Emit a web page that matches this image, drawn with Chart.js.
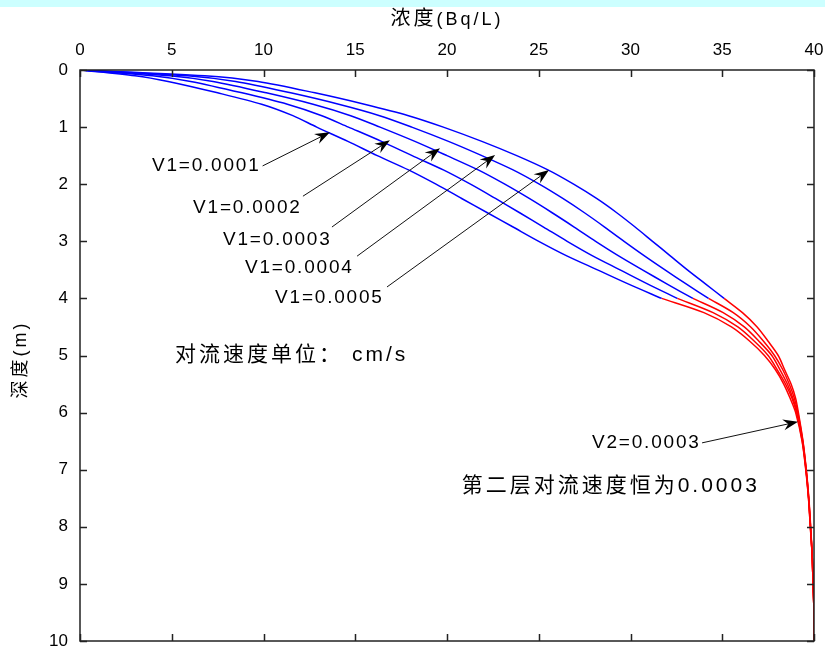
<!DOCTYPE html>
<html>
<head>
<meta charset="utf-8">
<script src="https://cdn.jsdelivr.net/npm/chart.js@4.4.1/dist/chart.umd.min.js"></script>
<style>
  html, body { margin: 0; padding: 0; background: #fff; }
  #wrap { width: 825px; height: 652px; }
</style>
</head>
<body>
<div id="wrap"><canvas id="depthChart" width="825" height="652"></canvas></div>
<script>
// depth (m) for the first layer (blue) and second layer (red)
const depthLayer1 = [0, 0.1, 0.2, 0.4, 0.6, 0.8, 1.0, 1.25, 1.5, 1.75, 2.0, 2.25, 2.5, 2.75, 3.0, 3.25, 3.5, 3.75, 4.0];
const depthLayer2 = [4.0, 4.25, 4.5, 4.75, 5.0, 5.25, 5.5, 5.75, 6.0, 6.5, 7.0, 7.5, 8.0, 8.5, 9.0, 9.5, 10];

// concentration (Bq/L), first layer, one per V1
const concV1_0001 = [0, 3.0, 4.8, 7.5, 9.9, 11.6, 12.9, 14.6, 16.2, 17.9, 19.4, 20.8, 22.2, 23.6, 25.0, 26.5, 28.2, 29.9, 31.7];
const concV1_0002 = [0, 3.95, 6.03, 8.83, 11.3, 13.18, 14.63, 16.43, 18.1, 19.8, 21.28, 22.64, 23.96, 25.26, 26.55, 27.91, 29.43, 30.95, 32.55];
const concV1_0003 = [0, 4.9, 7.25, 10.15, 12.7, 14.75, 16.35, 18.25, 20.0, 21.7, 23.15, 24.48, 25.73, 26.93, 28.1, 29.33, 30.65, 32.0, 33.4];
const concV1_0004 = [0, 5.85, 8.48, 11.48, 14.1, 16.33, 18.08, 20.08, 21.9, 23.6, 25.03, 26.31, 27.49, 28.59, 29.65, 30.74, 31.88, 33.05, 34.25];
const concV1_0005 = [0, 6.8, 9.7, 12.8, 15.5, 17.9, 19.8, 21.9, 23.8, 25.5, 26.9, 28.15, 29.25, 30.25, 31.2, 32.15, 33.1, 34.1, 35.1];

// concentration, second layer (V2 = 0.0003), continuing each curve
const concL2_1 = [31.7, 34.0, 35.5, 36.5, 37.3, 37.9, 38.35, 38.7, 39.0, 39.35, 39.55, 39.7, 39.8, 39.9, 39.95, 40, 40];
const concL2_2 = [32.55, 34.5, 35.85, 36.75, 37.5, 38.0, 38.45, 38.8, 39.05, 39.36, 39.56, 39.7, 39.8, 39.9, 39.95, 40, 40];
const concL2_3 = [33.4, 35.05, 36.2, 37.0, 37.7, 38.15, 38.55, 38.85, 39.08, 39.38, 39.57, 39.71, 39.81, 39.9, 39.95, 40, 40];
const concL2_4 = [34.25, 35.6, 36.55, 37.25, 37.85, 38.3, 38.65, 38.93, 39.12, 39.39, 39.57, 39.71, 39.81, 39.9, 39.95, 40, 40];
const concL2_5 = [35.1, 36.1, 36.9, 37.5, 38.05, 38.4, 38.75, 39.0, 39.15, 39.4, 39.58, 39.72, 39.82, 39.9, 39.95, 40, 40];

const v1Labels = ['V1=0.0001', 'V1=0.0002', 'V1=0.0003', 'V1=0.0004', 'V1=0.0005'];
const xTicks = [0, 5, 10, 15, 20, 25, 30, 35, 40];
const yTicks = [0, 1, 2, 3, 4, 5, 6, 7, 8, 9, 10];
const xTitle = ['浓度', '(Bq/L)'];
const yTitle = '深度(m)';

const layer1 = [concV1_0001, concV1_0002, concV1_0003, concV1_0004, concV1_0005];
const layer2 = [concL2_1, concL2_2, concL2_3, concL2_4, concL2_5];

// text + arrows, placed in data units
const notes = [
    { text: v1Labels[0], x: 3.92, y: 1.68, from: [9.95, 1.68], to: [13.62, 1.09] },
    { text: v1Labels[1], x: 6.16, y: 2.42, from: [12.15, 2.21], to: [16.89, 1.23] },
    { text: v1Labels[2], x: 7.79, y: 2.98, from: [13.73, 2.75], to: [19.62, 1.37] },
    { text: v1Labels[3], x: 8.99, y: 3.47, from: [15.1, 3.26], to: [22.62, 1.49] },
    { text: v1Labels[4], x: 10.63, y: 3.99, from: [16.73, 3.80], to: [25.56, 1.75] },
    { text: 'V2=0.0003', x: 27.9, y: 6.53, from: [33.9, 6.53], to: [39.13, 6.16] }
];
const cjkNotes = [
    { text: '对流速度单位： cm/s', x: 5.18, y: 4.99 },
    { text: '第二层对流速度恒为0.0003', x: 20.8, y: 7.29 }
];

const FONT = "'Liberation Sans', Arial, 'Noto Sans CJK SC', sans-serif";

function toPoints(xs, ys) {
    return xs.map((v, i) => ({ x: v, y: ys[i] }));
}

const datasets = [];
layer1.forEach((arr, i) => {
    datasets.push({ label: v1Labels[i], data: toPoints(arr, depthLayer1), borderColor: '#0000ff' });
});
layer2.forEach((arr, i) => {
    datasets.push({ label: v1Labels[i] + ' / V2', data: toPoints(arr, depthLayer2), borderColor: '#ff0000' });
});

function drawArrow(ctx, x1, y1, x2, y2) {
    const a = Math.atan2(y2 - y1, x2 - x1);
    const c = Math.cos(a), s = Math.sin(a);
    const L = 15, W = 5.5, N = 10;
    ctx.beginPath();
    ctx.moveTo(x1, y1);
    ctx.lineTo(x2 - N * c, y2 - N * s);
    ctx.stroke();
    ctx.beginPath();
    ctx.moveTo(x2, y2);
    ctx.lineTo(x2 - L * c + W * s, y2 - L * s - W * c);
    ctx.lineTo(x2 - N * c, y2 - N * s);
    ctx.lineTo(x2 - L * c - W * s, y2 - L * s + W * c);
    ctx.closePath();
    ctx.fill();
}

const framePlugin = {
    id: 'frame',
    beforeDraw(chart) {
        const ctx = chart.ctx;
        ctx.save();
        ctx.fillStyle = '#fff';
        ctx.fillRect(0, 0, chart.width, chart.height);
        ctx.fillStyle = '#ccffff';
        ctx.fillRect(0, 0, chart.width, 7);
        ctx.restore();
    },
    afterDraw(chart) {
        const { ctx, chartArea: area } = chart;
        const xs = chart.scales.x, ys = chart.scales.y;
        ctx.save();
        // box + inward ticks
        ctx.strokeStyle = '#222';
        ctx.lineWidth = 1.5;
        ctx.strokeRect(area.left, area.top, area.right - area.left, area.bottom - area.top);
        ctx.beginPath();
        xTicks.forEach(v => {
            const px = Math.round(xs.getPixelForValue(v)) + 0.5;
            ctx.moveTo(px, area.top); ctx.lineTo(px, area.top + 7);
            ctx.moveTo(px, area.bottom); ctx.lineTo(px, area.bottom - 7);
        });
        yTicks.forEach(v => {
            const py = Math.round(ys.getPixelForValue(v)) + 0.5;
            ctx.moveTo(area.left, py); ctx.lineTo(area.left + 7, py);
            ctx.moveTo(area.right, py); ctx.lineTo(area.right - 7, py);
        });
        ctx.stroke();

        ctx.fillStyle = '#000';
        ctx.textBaseline = 'middle';

        // axis titles
        ctx.textAlign = 'left';
        ctx.letterSpacing = '3px';
        ctx.font = '20px ' + FONT;
        const w1 = ctx.measureText(xTitle[0]).width;
        ctx.font = '18px ' + FONT;
        const w2 = ctx.measureText(xTitle[1]).width;
        const tx = (area.left + area.right) / 2 - (w1 + w2) / 2;
        ctx.font = '20px ' + FONT;
        ctx.fillText(xTitle[0], tx, 19);
        ctx.font = '18px ' + FONT;
        ctx.fillText(xTitle[1], tx + w1, 20);

        ctx.save();
        ctx.translate(21, (area.top + area.bottom) / 2 + 4);
        ctx.rotate(-Math.PI / 2);
        ctx.textAlign = 'center';
        ctx.letterSpacing = '3px';
        ctx.font = '18px ' + FONT;
        ctx.fillText(yTitle, 0, 0);
        ctx.restore();

        // annotations
        ctx.strokeStyle = '#111';
        ctx.lineWidth = 1;
        ctx.textAlign = 'left';
        ctx.font = '19px ' + FONT;
        ctx.letterSpacing = '1.8px';
        notes.forEach(n => {
            ctx.fillText(n.text, xs.getPixelForValue(n.x), ys.getPixelForValue(n.y));
            drawArrow(ctx,
                xs.getPixelForValue(n.from[0]), ys.getPixelForValue(n.from[1]),
                xs.getPixelForValue(n.to[0]), ys.getPixelForValue(n.to[1]));
        });
        ctx.font = '21px ' + FONT;
        ctx.letterSpacing = '3px';
        cjkNotes.forEach(n => {
            ctx.fillText(n.text, xs.getPixelForValue(n.x), ys.getPixelForValue(n.y));
        });
        ctx.restore();
    }
};

const ctx = document.getElementById('depthChart').getContext('2d');
new Chart(ctx, {
    type: 'line',
    data: { datasets },
    plugins: [framePlugin],
    options: {
        responsive: false,
        animation: false,
        layout: { padding: { top: 0, right: 11, bottom: 11, left: 0 } },
        plugins: { legend: { display: false }, tooltip: { enabled: false } },
        elements: {
            point: { radius: 0 },
            line: { borderWidth: 1.5, tension: 0.3, fill: false }
        },
        scales: {
            x: {
                type: 'linear',
                position: 'top',
                min: 0, max: 40,
                afterBuildTicks: s => { s.ticks = xTicks.map(v => ({ value: v })); },
                afterFit: s => { s.height = 70; s.paddingLeft = 0; s.paddingRight = 0; },
                ticks: { color: '#000', padding: 9, maxRotation: 0, font: { size: 17, family: FONT } },
                grid: { display: false, drawTicks: false },
                border: { display: false }
            },
            y: {
                type: 'linear',
                reverse: true,
                min: 0, max: 10,
                afterBuildTicks: s => { s.ticks = yTicks.map(v => ({ value: v })); },
                afterFit: s => { s.width = 80; s.paddingTop = 0; s.paddingBottom = 0; },
                ticks: { color: '#000', padding: 12, font: { size: 17, family: FONT } },
                grid: { display: false, drawTicks: false },
                border: { display: false }
            }
        }
    }
});
</script>
</body>
</html>
